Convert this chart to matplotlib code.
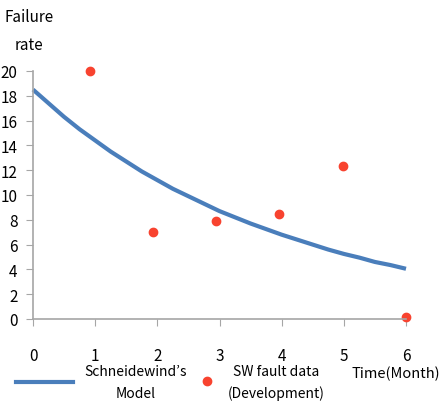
import matplotlib.pyplot as plt
from matplotlib.lines import Line2D

plt.rcParams['font.family'] = ['Noto Sans CJK KR', 'DejaVu Sans']

# model curve
model_x = [0, 0.25, 0.5, 0.75, 1, 1.25, 1.5, 1.75, 2, 2.25, 2.5, 2.75, 3,
           3.25, 3.5, 3.75, 4, 4.25, 4.5, 4.75, 5, 5.25, 5.5, 5.75, 6]
model_y = [18.5, 17.4, 16.3, 15.3, 14.4, 13.5, 12.7, 11.9, 11.2, 10.5, 9.9, 9.3, 8.7,
           8.2, 7.7, 7.25, 6.8, 6.4, 6.0, 5.6, 5.25, 4.95, 4.6, 4.35, 4.05]

# observed fault data
data_x = [0.92, 1.93, 2.94, 3.96, 4.98, 6.0]
data_y = [20.0, 7.0, 7.9, 8.5, 12.3, 0.13]

x_ticks = [0, 1, 2, 3, 4, 5, 6]
y_ticks = [0, 2, 4, 6, 8, 10, 12, 14, 16, 18, 20]

line_color = '#4a7ebb'
dot_color = '#f8432f'
axis_color = '#a6a6a6'

fig = plt.figure(figsize=(4.42, 4.02), dpi=100)
W, H = 442, 402
ax = fig.add_axes([33 / W, 1 - 320 / H, (406 - 33) / W, (320 - 72) / H])

ax.plot(model_x, model_y, color=line_color, lw=3, solid_capstyle='butt', clip_on=False)
ax.plot(data_x, data_y, 'o', color=dot_color, ms=6, mec=dot_color, clip_on=False)

ax.set_xlim(0, 6)
ax.set_ylim(0, 20)
ax.set_xticks(x_ticks)
ax.set_yticks(y_ticks)
ax.tick_params(axis='x', direction='out', length=5, color=axis_color, pad=15, labelsize=11)
ax.tick_params(axis='y', direction='out', length=5, color=axis_color, pad=6, labelsize=11)
for s in ['top', 'right']:
    ax.spines[s].set_visible(False)
for s in ['left', 'bottom']:
    ax.spines[s].set_color(axis_color)
    ax.spines[s].set_linewidth(1.2)

# axis titles
fig.text(5 / W, 1 - 17 / H, 'Failure', fontsize=11, va='center', ha='left')
fig.text(15 / W, 1 - 45 / H, 'rate', fontsize=11, va='center', ha='left')
fig.text(352 / W, 1 - 374 / H, 'Time(Month)', fontsize=10.5, va='center', ha='left')

# legend drawn by hand
fig.add_artist(Line2D([16 / W, 73 / W], [1 - 383 / H, 1 - 383 / H], color=line_color, lw=3))
fig.text(136 / W, 1 - 372 / H, "Schneidewind\u2019s", fontsize=10, ha='center', va='center')
fig.text(136 / W, 1 - 394 / H, 'Model', fontsize=10, ha='center', va='center')
fig.add_artist(Line2D([207 / W], [1 - 382 / H], marker='o', color=dot_color, ms=6, mec=dot_color))
fig.text(276 / W, 1 - 372 / H, 'SW fault data', fontsize=10, ha='center', va='center')
fig.text(276 / W, 1 - 394 / H, '(Development)', fontsize=10, ha='center', va='center')

fig.savefig('out.png', dpi=100)
